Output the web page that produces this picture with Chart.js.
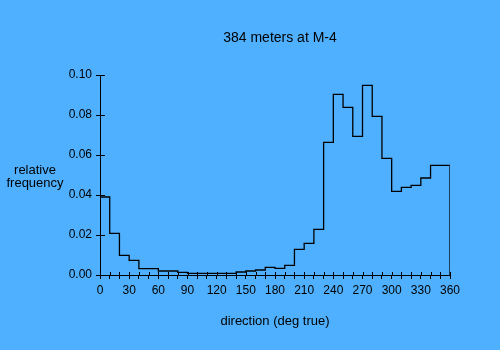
<!DOCTYPE html>
<html lang="en">
<head>
    <meta charset="utf-8">
    <title>384 meters at M-4</title>
    <script src="https://cdn.jsdelivr.net/npm/chart.js"></script>
    <style>
        html, body { margin: 0; padding: 0; background: #4FB0FF; }
        #wrap { width: 500px; height: 350px; }
    </style>
</head>
<body>
<div id="wrap"><canvas id="histChart"></canvas></div>
<script>
    // bin starts (deg true), 10 degree bins
    const directions = [0, 10, 20, 30, 40, 50, 60, 70, 80, 90, 100, 110,
        120, 130, 140, 150, 160, 170, 180, 190, 200, 210, 220, 230,
        240, 250, 260, 270, 280, 290, 300, 310, 320, 330, 340, 350];
    const frequencies = [0.039, 0.0208, 0.0098, 0.0073, 0.0032, 0.0032, 0.002, 0.002, 0.0013, 0.0008, 0.0008, 0.0008,
        0.0008, 0.0008, 0.0015, 0.002, 0.0025, 0.0038, 0.0033, 0.0048, 0.0128, 0.0158, 0.0228, 0.0663,
        0.0903, 0.0838, 0.0693, 0.0948, 0.0793, 0.0583, 0.0418, 0.0438, 0.0448, 0.0485, 0.0548, 0.0548];
    const xLabelEvery = 30;
    const binWidth = 10;

    const titleText = '384 meters at M-4';
    const yTitleLines = ['relative', 'frequency'];
    const xTitleText = 'direction (deg true)';

    const family = '"Liberation Sans", Arial, sans-serif';
    const tickFont = { family: family, size: 12 };

    // step outline ('before' keeps a point's value until the next point)
    const lastEdge = directions[directions.length - 1] + binWidth;
    const points = [{ x: directions[0], y: 0 }];
    directions.forEach((d, i) => points.push({ x: d, y: frequencies[i] }));
    points.push({ x: lastEdge, y: frequencies[frequencies.length - 1] });
    points.push({ x: lastEdge, y: 0 });

    // tick marks poking into the plot area + free text
    const extras = {
        id: 'extras',
        afterDraw(chart) {
            const ctx = chart.ctx;
            const xs = chart.scales.x, ys = chart.scales.y;
            const area = chart.chartArea;
            ctx.save();
            ctx.strokeStyle = '#000';
            ctx.lineWidth = 1;
            ctx.beginPath();
            xs.ticks.forEach(t => {
                const px = Math.round(xs.getPixelForValue(t.value)) + 0.5;
                ctx.moveTo(px, area.bottom);
                ctx.lineTo(px, area.bottom - 3);
            });
            ys.ticks.forEach(t => {
                const py = Math.round(ys.getPixelForValue(t.value)) + 0.5;
                ctx.moveTo(area.left, py);
                ctx.lineTo(area.left + 5, py);
            });
            ctx.stroke();

            ctx.fillStyle = '#000';
            ctx.textAlign = 'center';
            ctx.textBaseline = 'middle';
            ctx.font = '14px ' + family;
            ctx.fillText(titleText, 280, 38);
            ctx.font = '13px ' + family;
            ctx.fillText(yTitleLines[0], 35, 170);
            ctx.fillText(yTitleLines[1], 35, 183);
            ctx.fillText(xTitleText, 275, 321);
            ctx.restore();
        }
    };

    new Chart(document.getElementById('histChart'), {
        type: 'line',
        data: {
            datasets: [{
                data: points,
                stepped: 'before',
                borderColor: '#000',
                borderWidth: 1.3,
                pointRadius: 0,
                fill: false
            }]
        },
        options: {
            responsive: true,
            maintainAspectRatio: false,
            animation: false,
            layout: { padding: { top: 75, right: 50, left: 0, bottom: 0 } },
            plugins: { legend: { display: false }, tooltip: { enabled: false } },
            scales: {
                x: {
                    type: 'linear',
                    min: 0,
                    max: 360,
                    afterFit: s => { s.height = 75; },
                    grid: { drawOnChartArea: false, tickLength: 4, color: '#000' },
                    border: { color: '#000', width: 1 },
                    ticks: {
                        stepSize: binWidth,
                        autoSkip: false,
                        maxRotation: 0,
                        padding: 4,
                        color: '#000',
                        font: tickFont,
                        callback: v => (v % xLabelEvery === 0 ? String(v) : '')
                    }
                },
                y: {
                    min: 0,
                    max: 0.1,
                    afterFit: s => { s.width = 100; },
                    grid: { drawOnChartArea: false, tickLength: 4, color: '#000' },
                    border: { color: '#000', width: 1 },
                    ticks: {
                        stepSize: 0.02,
                        padding: 4,
                        color: '#000',
                        font: tickFont,
                        callback: v => v.toFixed(2)
                    }
                }
            }
        },
        plugins: [extras]
    });
</script>
</body>
</html>
